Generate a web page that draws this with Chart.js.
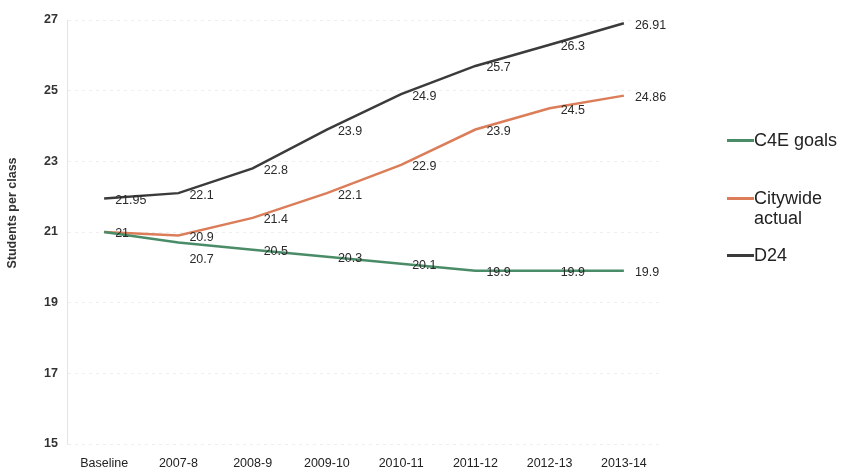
<!DOCTYPE html>
<html>
<head>
<meta charset="utf-8">
<script src="https://cdn.jsdelivr.net/npm/chart.js@4.4.1/dist/chart.umd.min.js"></script>
<style>
  body { margin: 0; background: #fff; font-family: "Liberation Sans", Arial, sans-serif; }
  #wrap { position: relative; width: 843px; height: 472px; }
  #legend { position: absolute; left: 727px; top: 0; }
  .item { position: absolute; left: 0; display: flex; align-items: flex-start; font-size: 18px; color: #222; line-height: 20px; white-space: nowrap; }
  .swatch { width: 27px; height: 2.5px; margin-top: 9px; }
</style>
</head>
<body>
<div id="wrap">
  <canvas id="classSizeChart" width="843" height="472"></canvas>
  <div id="legend"></div>
</div>
<script>
// --- Chart Data ---
const years = ['Baseline', '2007-8', '2008-9', '2009-10', '2010-11', '2011-12', '2012-13', '2013-14'];
const c4eGoals = [21, 20.7, 20.5, 20.3, 20.1, 19.9, 19.9, 19.9];
const citywideActual = [21, 20.9, 21.4, 22.1, 22.9, 23.9, 24.5, 24.86];
const d24 = [21.95, 22.1, 22.8, 23.9, 24.9, 25.7, 26.3, 26.91];
const yTicks = [15, 17, 19, 21, 23, 25, 27];

const seriesNames = ['C4E goals', ['Citywide', 'actual'], 'D24'];
const seriesColors = ['#4a8c68', '#dc7d5a', '#3b3b3b'];
const fontFam = '"Liberation Sans", Arial, sans-serif';

// value labels next to each point; same value at same spot drawn once,
// nudged down if it would overlap a label already drawn
const valueLabels = {
    id: 'valueLabels',
    afterDatasetsDraw(chart) {
        const ctx = chart.ctx;
        const placed = [];
        ctx.save();
        ctx.font = '12.5px ' + fontFam;
        ctx.fillStyle = '#2a2a2a';
        ctx.textAlign = 'left';
        ctx.textBaseline = 'middle';
        [2, 1, 0].forEach(di => {
            const meta = chart.getDatasetMeta(di);
            meta.data.forEach((pt, i) => {
                const txt = String(chart.data.datasets[di].data[i]);
                let x = pt.x + 11;
                let y = pt.y + 2;
                if (placed.some(p => p.txt === txt && Math.abs(p.x - x) < 2 && Math.abs(p.y - y) < 2)) return;
                for (const p of placed) {
                    if (Math.abs(p.x - x) < 26 && Math.abs(p.y - y) < 12) y = p.y + 22;
                }
                placed.push({ x, y, txt });
                ctx.fillText(txt, x, y);
            });
        });
        ctx.restore();
    }
};

// rotated axis title, sitting a bit above the middle like the original
const yTitle = {
    id: 'yTitle',
    afterDraw(chart) {
        const ctx = chart.ctx;
        ctx.save();
        ctx.translate(13, 213);
        ctx.rotate(-Math.PI / 2);
        ctx.font = 'bold 12.5px ' + fontFam;
        ctx.fillStyle = '#333';
        ctx.textAlign = 'center';
        ctx.textBaseline = 'middle';
        ctx.fillText('Students per class', 0, 0);
        ctx.restore();
    }
};

const ctx = document.getElementById('classSizeChart').getContext('2d');
const chart = new Chart(ctx, {
    type: 'line',
    data: {
        labels: years,
        datasets: [
            { label: 'C4E goals', data: c4eGoals, borderColor: seriesColors[0] },
            { label: 'Citywide actual', data: citywideActual, borderColor: seriesColors[1] },
            { label: 'D24', data: d24, borderColor: seriesColors[2] }
        ].map(d => Object.assign(d, { borderWidth: 2.5, pointRadius: 0, tension: 0, fill: false }))
    },
    options: {
        responsive: false,
        animation: false,
        layout: { padding: { top: 20, right: 182, bottom: 0, left: 0 } },
        plugins: {
            legend: { display: false },
            tooltip: { enabled: false }
        },
        scales: {
            x: {
                offset: true,
                grid: { display: false },
                border: { display: false },
                ticks: { color: '#222', font: { size: 12.5, family: fontFam }, padding: 4, maxRotation: 0 },
                afterFit(scale) { scale.height = 28; }
            },
            y: {
                min: 15,
                max: 27,
                afterBuildTicks(scale) { scale.ticks = yTicks.map(v => ({ value: v })); },
                grid: { color: '#efefef', drawTicks: false },
                border: { color: '#e4e4e4', dash: [3, 4] },
                ticks: { color: '#333', font: { size: 12.5, weight: 'bold', family: fontFam }, padding: 9 },
                afterFit(scale) { scale.width = 67; }
            }
        }
    },
    plugins: [valueLabels, yTitle]
});

// --- Legend (HTML, right side) ---
const legendTops = [130, 188, 245];
const legend = document.getElementById('legend');
seriesNames.forEach((name, i) => {
    const item = document.createElement('div');
    item.className = 'item';
    item.style.top = legendTops[i] + 'px';
    const sw = document.createElement('div');
    sw.className = 'swatch';
    sw.style.background = seriesColors[i];
    const tx = document.createElement('div');
    tx.innerHTML = [].concat(name).join('<br>');
    item.appendChild(sw);
    item.appendChild(tx);
    legend.appendChild(item);
});
</script>
</body>
</html>
